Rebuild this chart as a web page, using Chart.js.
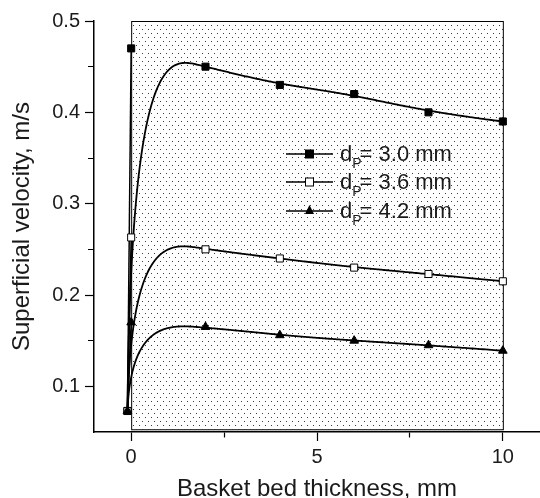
<!DOCTYPE html>
<html lang="en">
<head>
  <meta charset="UTF-8" />
  <title>Superficial velocity vs basket bed thickness</title>
  <script src="https://cdn.jsdelivr.net/npm/chart.js"></script>
  <style>
    html, body { margin: 0; padding: 0; background: #fff; }
    #wrap { position: relative; width: 540px; height: 498px; }
    #legend {
      position: absolute; left: 286px; top: 140px;
      font-family: "Liberation Sans", Arial, sans-serif; font-size: 22px; color: #1a1a1a;
    }
    .row { height: 28.3px; display: flex; align-items: center; white-space: nowrap; }
    .row svg { margin-right: 7px; }
    .row sub { font-size: 14px; vertical-align: -7px; line-height: 0; }
    .row .eq { margin-left: -2px; }
  </style>
</head>
<body>
  <div id="wrap">
    <canvas id="chart" width="540" height="498"></canvas>
    <div id="legend"></div>
  </div>

  <script>
    // data
    const thickness = [-0.1, 0, 2, 4, 6, 8, 10];
    const vel30 = [0.073, 0.47, 0.45, 0.43, 0.42, 0.40, 0.39];
    const vel36 = [0.073, 0.263, 0.25, 0.24, 0.23, 0.223, 0.215];
    const vel42 = [0.073, 0.17, 0.165, 0.156, 0.15, 0.145, 0.139];
    const seriesLabels = ['3.0 mm', '3.6 mm', '4.2 mm'];

    const xMajorTicks = [0, 5, 10];
    const xMinorTicks = [2.5, 7.5];
    const yMajorTicks = [0.1, 0.2, 0.3, 0.4, 0.5];
    const yMinorTicks = [0.15, 0.25, 0.35, 0.45];

    // dotted region behind the curves
    const shadeX = [0, 10];
    const shadeY = [0.053, 0.5];

    const family = '"Liberation Sans", Arial, sans-serif';
    const textColor = '#1a1a1a';
    const pointStyles = ['rect', 'rect', 'triangle'];
    const pointFills = ['#000', '#fff', '#000'];

    // small tile for the stipple fill
    const dotTile = document.createElement('canvas');
    dotTile.width = 6;
    dotTile.height = 8;
    (function () {
      const g = dotTile.getContext('2d');
      g.fillStyle = '#fff';
      g.fillRect(0, 0, 6, 8);
      g.fillStyle = '#3c3c3c';
      g.fillRect(1, 1, 1, 1);
      g.fillRect(4, 5, 1, 1);
    })();

    // clamped cubic B-spline using the data points as control points
    function bsplinePoint(pts, u) {
      const n = pts.length, k = 3;
      const knots = [];
      for (let i = 0; i <= n + k; i++) knots.push(Math.min(Math.max(i - k, 0), n - k));
      let s = k;
      while (s < n - 1 && u >= knots[s + 1]) s++;
      const d = [];
      for (let j = 0; j <= k; j++) d.push(pts[j + s - k].slice());
      for (let r = 1; r <= k; r++) {
        for (let j = k; j >= r; j--) {
          const i = j + s - k;
          const den = knots[i + 1 + k - r] - knots[i];
          const a = den === 0 ? 0 : (u - knots[i]) / den;
          d[j] = [(1 - a) * d[j - 1][0] + a * d[j][0], (1 - a) * d[j - 1][1] + a * d[j][1]];
        }
      }
      return d[k];
    }

    const backdropPlugin = {
      id: 'backdrop',
      beforeDatasetsDraw(chart) {
        const { ctx, scales: { x, y } } = chart;
        const l = x.getPixelForValue(shadeX[0]), r = x.getPixelForValue(shadeX[1]);
        const t = y.getPixelForValue(shadeY[1]), b = y.getPixelForValue(shadeY[0]);
        ctx.save();
        ctx.fillStyle = ctx.createPattern(dotTile, 'repeat');
        ctx.fillRect(l, t, r - l, b - t);
        ctx.strokeStyle = '#000';
        ctx.lineWidth = 1;
        ctx.strokeRect(l + 0.5, t + 0.5, r - l, b - t);

        // smooth curves through each series
        ctx.strokeStyle = '#000';
        ctx.lineWidth = 1.8;
        chart.data.datasets.forEach((ds, i) => {
          const pts = chart.getDatasetMeta(i).data.map(p => [p.x, p.y]);
          const umax = pts.length - 3;
          ctx.beginPath();
          for (let st = 0; st <= 300; st++) {
            const q = bsplinePoint(pts, umax * st / 300);
            if (st === 0) ctx.moveTo(q[0], q[1]); else ctx.lineTo(q[0], q[1]);
          }
          ctx.stroke();
        });
        ctx.restore();
      }
    };

    const datasets = [vel30, vel36, vel42].map((vals, i) => ({
      label: 'dP = ' + seriesLabels[i],
      data: thickness.map((t, j) => ({ x: t, y: vals[j] })),
      showLine: true,
      borderColor: '#000',
      borderWidth: 1.5,
      segment: {
        borderColor: c => c.p0DataIndex === 0 ? '#000' : 'rgba(0,0,0,0)'
      },
      pointStyle: pointStyles[i],
      pointRadius: 5,
      pointBackgroundColor: pointFills[i],
      pointBorderColor: '#000',
      pointBorderWidth: 1,
      order: 3 - i
    }));

    const isIn = (list, v) => list.some(m => Math.abs(m - v) < 1e-9);

    new Chart(document.getElementById('chart').getContext('2d'), {
      type: 'scatter',
      data: { datasets },
      plugins: [backdropPlugin],
      options: {
        responsive: false,
        animation: false,
        layout: { autoPadding: false, padding: { top: 21, right: 0, bottom: 0, left: 0 } },
        plugins: { legend: { display: false }, tooltip: { enabled: false } },
        scales: {
          x: {
            type: 'linear',
            min: -1,
            max: 11,
            afterBuildTicks: s => {
              s.ticks = [...xMajorTicks, ...xMinorTicks].sort((a, b) => a - b).map(v => ({ value: v }));
            },
            afterFit: s => {
              s.height = 66;
              s.paddingLeft = 0;
              s.paddingRight = 0;
            },
            ticks: {
              autoSkip: false,
              maxRotation: 0,
              padding: 4,
              color: textColor,
              font: { size: 20, family },
              callback: v => isIn(xMajorTicks, v) ? String(v) : ''
            },
            grid: {
              drawOnChartArea: false,
              tickLength: 9,
              tickColor: '#000',
              tickWidth: 1.2,
              tickBorderDash: c => (c.tick && isIn(xMinorTicks, c.tick.value)) ? [5, 20] : []
            },
            border: { display: true, color: '#000', width: 1.5 },
            title: {
              display: true,
              text: 'Basket bed thickness, mm',
              color: textColor,
              font: { size: 24, family, lineHeight: 1 },
              padding: { top: 0, bottom: -3 }
            }
          },
          y: {
            type: 'linear',
            min: 0.05,
            max: 0.5,
            afterBuildTicks: s => {
              s.ticks = [...yMajorTicks, ...yMinorTicks].sort((a, b) => a - b).map(v => ({ value: v }));
            },
            afterFit: s => { s.width = 94; },
            ticks: {
              autoSkip: false,
              padding: 5,
              color: textColor,
              font: { size: 20, family },
              callback: v => isIn(yMajorTicks, v) ? v.toFixed(1) : ''
            },
            grid: {
              drawOnChartArea: false,
              tickLength: 9,
              tickColor: '#000',
              tickWidth: 1.2,
              tickBorderDash: c => (c.tick && isIn(yMinorTicks, c.tick.value)) ? [0, 3, 6, 20] : []
            },
            border: { display: true, color: '#000', width: 1.5 },
            title: {
              display: true,
              text: 'Superficial velocity, m/s',
              color: textColor,
              font: { size: 24, family, lineHeight: 1 },
              padding: { top: 10, bottom: 0 }
            }
          }
        }
      }
    });

    // legend with subscript, placed inside the plot like the original
    const legend = document.getElementById('legend');
    seriesLabels.forEach((lab, i) => {
      let mark;
      if (pointStyles[i] === 'triangle') {
        mark = '<polygon points="23.5,1 28,10 19,10" fill="#000"/>';
      } else {
        mark = '<rect x="19.5" y="3" width="8" height="8" fill="' + pointFills[i] + '" stroke="#000" stroke-width="1"/>';
      }
      const row = document.createElement('div');
      row.className = 'row';
      row.innerHTML =
        '<svg width="47" height="14" viewBox="0 0 47 14">' +
        '<line x1="0" y1="7" x2="47" y2="7" stroke="#000" stroke-width="1.6"/>' + mark + '</svg>' +
        '<span>d<sub>P</sub><span class="eq">=</span> ' + lab + '</span>';
      legend.appendChild(row);
    });
  </script>
</body>
</html>
